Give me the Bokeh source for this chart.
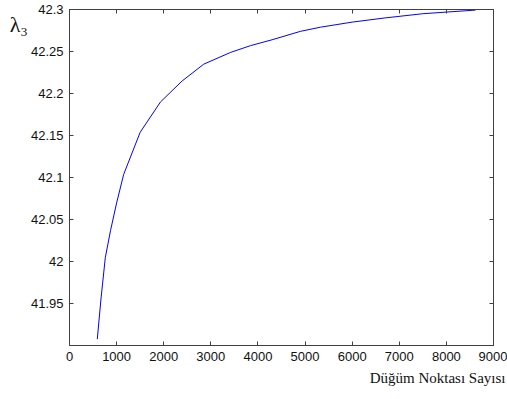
from bokeh.plotting import figure
from bokeh.models import FixedTicker, LinearAxis, Range1d, Title
from bokeh.embed import file_html
from bokeh.resources import INLINE

# data: number of nodes vs lambda_3
nodes = [590, 670, 760, 870, 1000, 1150, 1500, 1930, 2390, 2850, 3420, 3840, 4300, 4900,
         5330, 6000, 6700, 7500, 8620]
lam3 = [41.908, 41.957, 42.005, 42.037, 42.070, 42.104, 42.154, 42.190, 42.215, 42.235,
        42.249, 42.257, 42.264, 42.274, 42.279, 42.285, 42.290, 42.295, 42.2993]

x_ticks = [0, 1000, 2000, 3000, 4000, 5000, 6000, 7000, 8000, 9000]
y_ticks = [41.95, 42.0, 42.05, 42.1, 42.15, 42.2, 42.25, 42.3]
y_tick_labels = ["41.95", "42", "42.05", "42.1", "42.15", "42.2", "42.25", "42.3"]
x_label = "Düğüm Noktası Sayısı"
y_label = "λ₃"

p = figure(width=507, height=399, output_backend="svg", toolbar_location=None,
           x_range=Range1d(0, 9000), y_range=Range1d(41.9005, 42.3),
           min_border_left=69, min_border_right=14, min_border_top=9, min_border_bottom=54)
p.xaxis.visible = False
p.yaxis.visible = False
p.grid.visible = False
p.outline_line_color = "#404040"
p.outline_line_width = 1
p.background_fill_color = "white"
p.border_fill_color = "white"

p.line(nodes, lam3, line_color="#0000ff", line_width=1)

font = "Liberation Sans"
def style(ax, labels=True):
    ax.axis_line_color = "#404040"
    ax.major_tick_line_color = "#404040"
    ax.major_tick_in = 4
    ax.major_tick_out = 0
    ax.minor_tick_line_color = None
    ax.major_label_standoff = 6
    ax.major_label_text_font = font
    ax.major_label_text_color = "#111111"
    ax.major_label_text_font_size = "13px"
    if not labels:
        ax.major_label_standoff = 0
        ax.major_label_text_font_size = "1px"

xb = LinearAxis(ticker=FixedTicker(ticks=x_ticks))
style(xb)
p.add_layout(xb, "below")
p.add_layout(Title(text=x_label, align="right", offset=-12, standoff=9,
                   text_font="Liberation Serif", text_font_size="15px",
                   text_font_style="normal", text_color="#111111"), "below")
xt = LinearAxis(ticker=FixedTicker(ticks=x_ticks),
                major_label_overrides={v: "" for v in x_ticks})
style(xt, labels=False)
p.add_layout(xt, "above")

yl = LinearAxis(ticker=FixedTicker(ticks=y_ticks), axis_label="\n" + y_label,
                major_label_overrides={v: s for v, s in zip(y_ticks, y_tick_labels)})
style(yl)
yl.axis_label_orientation = "horizontal"
yl.axis_label_align = "end"
yl.axis_label_standoff = 0
yl.axis_label_text_font = "Liberation Serif"
yl.axis_label_text_font_size = "22px"
yl.axis_label_text_font_style = "normal"
yl.axis_label_text_color = "#111111"
p.add_layout(yl, "left")
yr = LinearAxis(ticker=FixedTicker(ticks=y_ticks),
                major_label_overrides={v: "" for v in y_ticks})
style(yr, labels=False)
p.add_layout(yr, "right")

open("out.html", "w").write(file_html(p, INLINE))
